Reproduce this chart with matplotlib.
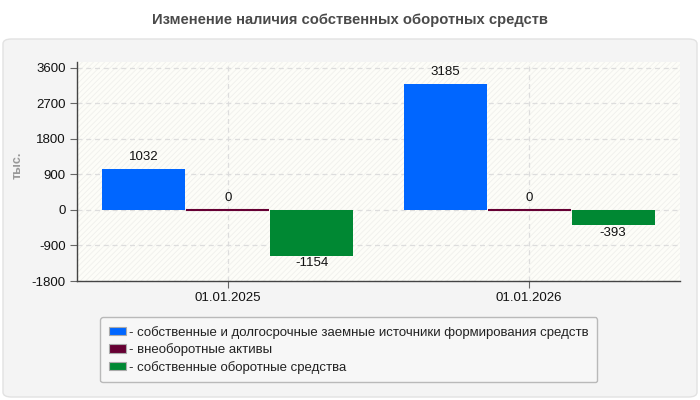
import matplotlib.pyplot as plt
from matplotlib.patches import FancyBboxPatch, Patch
import numpy as np

plt.rcParams['font.family'] = ['Liberation Sans', 'DejaVu Sans']
plt.rcParams['hatch.linewidth'] = 0.6
plt.rcParams['hatch.color'] = '#f0f0ec'

dates = ['01.01.2025', '01.01.2026']
own_and_long = [1032, 3185]
noncurrent = [0, 0]
working = [-1154, -393]
series_names = ['- собственные и долгосрочные заемные источники формирования средств',
                '- внеоборотные активы',
                '- собственные оборотные средства']
colors = ['#0066ff', '#660033', '#008833']
yticks = [-1800, -900, 0, 900, 1800, 2700, 3600]

fig = plt.figure(figsize=(7, 4), dpi=100)
fig.patch.set_facecolor('white')

# gray rounded panel behind the chart
panel = FancyBboxPatch((3 / 700, 3 / 400), 694 / 700, 358 / 400,
                       boxstyle='round,pad=0,rounding_size=0.012',
                       transform=fig.transFigure, facecolor='#f4f4f4',
                       edgecolor='#e2e2e2', linewidth=1, zorder=-10)
fig.patches.append(panel)

fig.text(0.5, 1 - 20 / 400, 'Изменение наличия собственных оборотных средств',
         ha='center', va='center', fontsize=10.6, fontweight='bold', color='#4a4a4a')

ax = fig.add_axes([77 / 700, 1 - 281 / 400, 603 / 700, 219 / 400])
ax.set_facecolor('#fdfdf8')
ax.patch.set_edgecolor('#f0f0ec')
ax.patch.set_linewidth(0)
ax.patch.set_hatch('//////')

x = np.arange(len(dates))
w = 0.275
step = 0.278
for i, vals in enumerate([own_and_long, noncurrent, working]):
    pos = x + (i - 1) * step
    bars = ax.bar(pos, vals, width=w, color=colors[i], edgecolor=colors[i],
                  linewidth=1.5 if i == 1 else 0, zorder=3)
    for xp, v in zip(pos, vals):
        if v < 0:
            ax.text(xp, v - 40, str(v), ha='center', va='top', fontsize=9.5, color='#111111', zorder=4)
        else:
            ax.text(xp, v + 150, str(v), ha='center', va='bottom', fontsize=9.5, color='#111111', zorder=4)

ax.set_xlim(-0.5, 1.5)
ax.set_ylim(-1800, 3750)
ax.set_yticks(yticks)
ax.set_yticklabels([str(t) for t in yticks], fontsize=9.5, color='#111111')
ax.set_xticks(x)
ax.set_xticklabels(dates, fontsize=9.5, color='#111111')
ax.grid(True, color='#dddddd', linestyle=(0, (4, 3)), linewidth=0.9, zorder=1)
ax.set_axisbelow(True)
for s in ['top', 'right']:
    ax.spines[s].set_visible(False)
for s in ['left', 'bottom']:
    ax.spines[s].set_color('#444444')
    ax.spines[s].set_linewidth(1)
ax.tick_params(axis='both', length=5, color='#666666', pad=3)

fig.text(18 / 700, 1 - 165 / 400, 'тыс.', rotation=90, ha='center', va='center',
         fontsize=9, fontweight='bold', color='#999999')

handles = [Patch(facecolor=c, edgecolor='#aaaaaa', linewidth=0.8) for c in colors]
leg = fig.legend(handles, series_names, loc='upper left',
                 bbox_to_anchor=(100 / 700, 1 - 317 / 400), fontsize=9.5,
                 frameon=True, fancybox=True, handlelength=1.35, handleheight=0.6,
                 handletextpad=0.2, labelspacing=0.35, borderpad=0.65,
                 borderaxespad=0)
leg.get_frame().set_facecolor('#f9f9f9')
leg.get_frame().set_edgecolor('#aaaaaa')
leg.get_frame().set_linewidth(1)
for t in leg.get_texts():
    t.set_color('#222222')

fig.savefig('out.png', dpi=100)
